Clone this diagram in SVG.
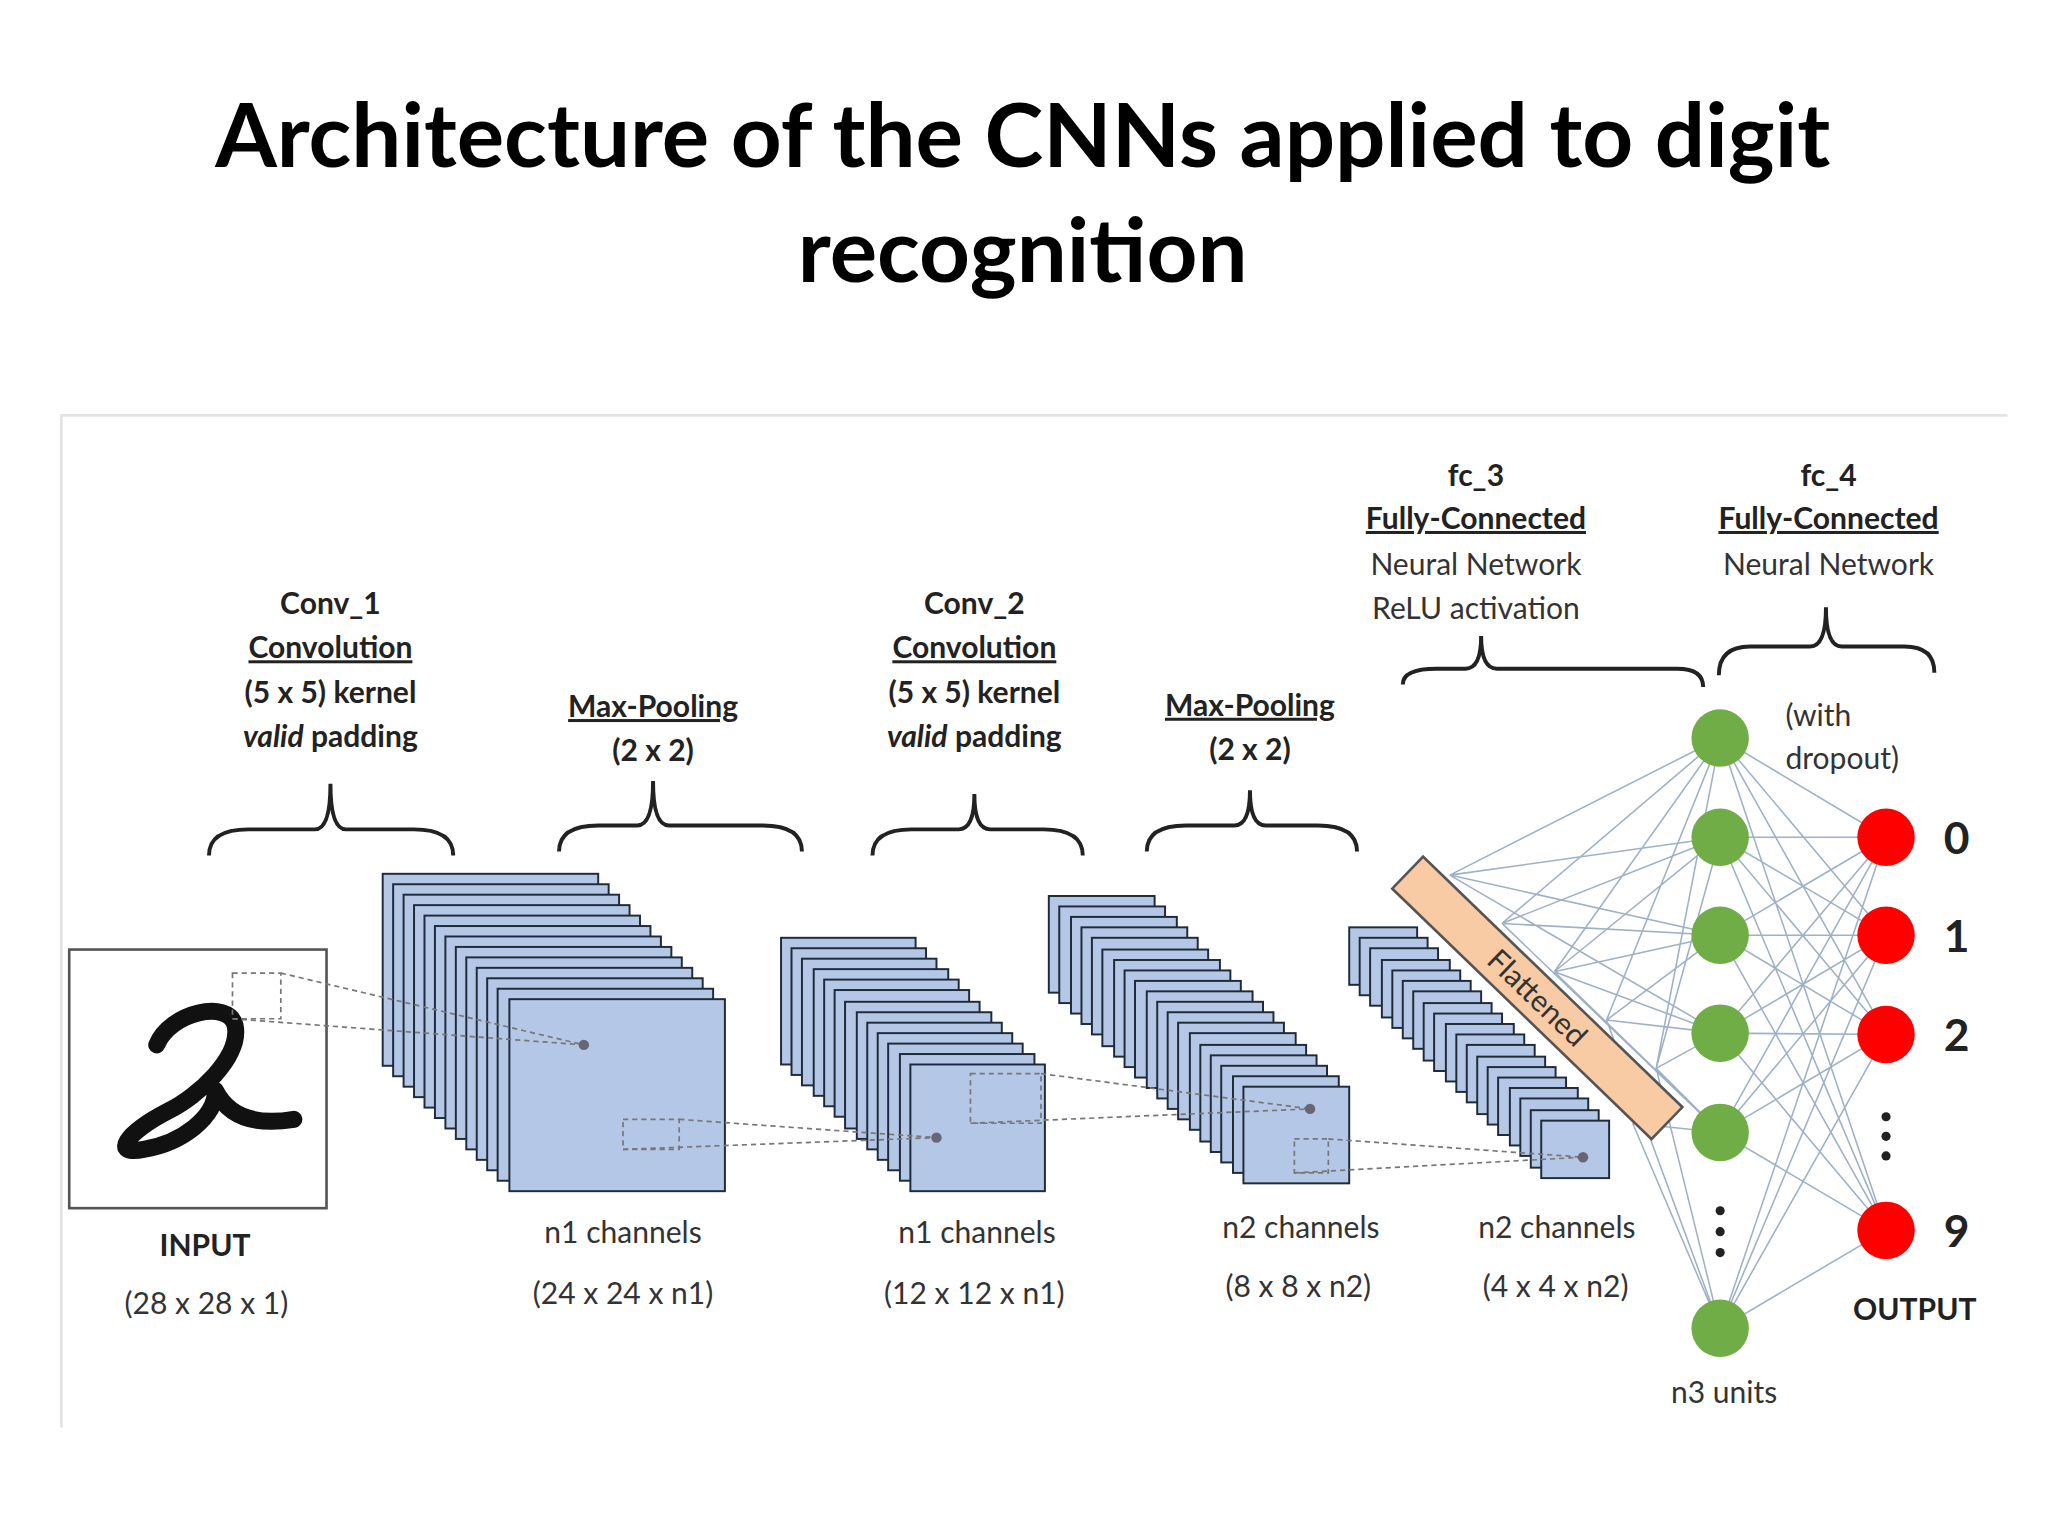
<svg xmlns="http://www.w3.org/2000/svg" width="2048" height="1536" viewBox="0 0 2048 1536">
<style>
.t{font-family:Lato,"Open Sans",sans-serif;font-size:23px;fill:#333;text-anchor:middle}
.b{font-weight:bold;fill:#222}
.u{text-decoration:underline}
.big{font-size:34px}
.s{text-anchor:start}
.title{font-family:Lato,"Open Sans",sans-serif;font-size:68px;font-weight:bold;fill:#000;text-anchor:middle}
.L{fill:#b4c7e7;stroke:#1e2a38;stroke-width:1.5}
.brace{fill:none;stroke:#222;stroke-width:3}
.d{stroke:#777;stroke-width:1.3;stroke-dasharray:4 3;fill:none}
.c{stroke:#9fb1c6;stroke-width:1.2}
.g{fill:#70ad47}
.r{fill:#ff0000}
.dot{fill:#222}
</style>
<rect width="2048" height="1536" fill="#fff"/>
<g transform="scale(1.30612)">
<g id="title">
<text class="title" x="783" y="128">Architecture of the CNNs applied to digit</text>
<text class="title" x="783" y="216">recognition</text>
</g>
<g id="frame" stroke="#e3e3e3" stroke-width="2" fill="none"><path d="M47 1093 V318 H1537"/></g>
<g id="input">
<rect x="53" y="727" width="197" height="198" fill="#fff" stroke="#555" stroke-width="2"/>
<path d="M120 800 C130 775 175 765 180 785 C185 810 150 840 130 850 C95 868 85 885 110 880 C140 875 165 855 165 835 C175 855 195 862 225 857" fill="none" stroke="#111" stroke-width="13" stroke-linecap="round" stroke-linejoin="round"/>
<text class="t b" x="157" y="962">INPUT</text>
<text class="t" x="158" y="1006">(28 x 28 x 1)</text>
</g>
<g id="conv1">
<rect class="L" x="293" y="669" width="165" height="147"/><rect class="L" x="301" y="677" width="165" height="147"/><rect class="L" x="309" y="685" width="165" height="147"/><rect class="L" x="317" y="693" width="165" height="147"/><rect class="L" x="325" y="701" width="165" height="147"/><rect class="L" x="333" y="709" width="165" height="147"/><rect class="L" x="341" y="717" width="165" height="147"/><rect class="L" x="349" y="725" width="165" height="147"/><rect class="L" x="357" y="733" width="165" height="147"/><rect class="L" x="365" y="741" width="165" height="147"/><rect class="L" x="373" y="749" width="165" height="147"/><rect class="L" x="381" y="757" width="165" height="147"/><rect class="L" x="390" y="765" width="165" height="147"/>
<text class="t" x="477" y="952">n1 channels</text>
<text class="t" x="477" y="998">(24 x 24 x n1)</text>
</g>
<g id="pool1">
<rect class="L" x="598" y="718" width="103" height="97"/><rect class="L" x="606" y="726" width="103" height="97"/><rect class="L" x="614" y="734" width="103" height="97"/><rect class="L" x="623" y="742" width="103" height="97"/><rect class="L" x="631" y="750" width="103" height="97"/><rect class="L" x="639" y="758" width="103" height="97"/><rect class="L" x="647" y="767" width="103" height="97"/><rect class="L" x="656" y="775" width="103" height="97"/><rect class="L" x="664" y="783" width="103" height="97"/><rect class="L" x="672" y="791" width="103" height="97"/><rect class="L" x="680" y="799" width="103" height="97"/><rect class="L" x="689" y="807" width="103" height="97"/><rect class="L" x="697" y="815" width="103" height="97"/>
<text class="t" x="748" y="952">n1 channels</text>
<text class="t" x="746" y="998">(12 x 12 x n1)</text>
</g>
<g id="conv2">
<rect class="L" x="803" y="686" width="81" height="74"/><rect class="L" x="811" y="694" width="81" height="74"/><rect class="L" x="820" y="702" width="81" height="74"/><rect class="L" x="828" y="710" width="81" height="74"/><rect class="L" x="836" y="718" width="81" height="74"/><rect class="L" x="844" y="727" width="81" height="74"/><rect class="L" x="853" y="735" width="81" height="74"/><rect class="L" x="861" y="743" width="81" height="74"/><rect class="L" x="869" y="751" width="81" height="74"/><rect class="L" x="878" y="759" width="81" height="74"/><rect class="L" x="886" y="767" width="81" height="74"/><rect class="L" x="894" y="775" width="81" height="74"/><rect class="L" x="902" y="783" width="81" height="74"/><rect class="L" x="911" y="791" width="81" height="74"/><rect class="L" x="919" y="800" width="81" height="74"/><rect class="L" x="927" y="808" width="81" height="74"/><rect class="L" x="935" y="816" width="81" height="74"/><rect class="L" x="944" y="824" width="81" height="74"/><rect class="L" x="952" y="832" width="81" height="74"/>
<text class="t" x="996" y="948">n2 channels</text>
<text class="t" x="994" y="993">(8 x 8 x n2)</text>
</g>
<g id="pool2">
<rect class="L" x="1033" y="710" width="52" height="44"/><rect class="L" x="1041" y="718" width="52" height="44"/><rect class="L" x="1049" y="726" width="52" height="44"/><rect class="L" x="1058" y="735" width="52" height="44"/><rect class="L" x="1066" y="743" width="52" height="44"/><rect class="L" x="1074" y="751" width="52" height="44"/><rect class="L" x="1082" y="759" width="52" height="44"/><rect class="L" x="1090" y="768" width="52" height="44"/><rect class="L" x="1098" y="776" width="52" height="44"/><rect class="L" x="1107" y="784" width="52" height="44"/><rect class="L" x="1115" y="792" width="52" height="44"/><rect class="L" x="1123" y="800" width="52" height="44"/><rect class="L" x="1131" y="809" width="52" height="44"/><rect class="L" x="1139" y="817" width="52" height="44"/><rect class="L" x="1147" y="825" width="52" height="44"/><rect class="L" x="1156" y="833" width="52" height="44"/><rect class="L" x="1164" y="841" width="52" height="44"/><rect class="L" x="1172" y="850" width="52" height="44"/><rect class="L" x="1180" y="858" width="52" height="44"/>
<text class="t" x="1192" y="948">n2 channels</text>
<text class="t" x="1191" y="993">(4 x 4 x n2)</text>
</g>
<g id="connectors">
<g id="kernels">
<rect class="d" x="178" y="745" width="37" height="35"/>
<path class="d" d="M215 745 L447 800 M178 780 L447 800"/>
<circle cx="447" cy="800" r="4" fill="#667"/>
<rect class="d" x="477" y="857" width="43" height="23"/>
<path class="d" d="M520 857 L717 871 M477 880 L717 871"/>
<circle cx="717" cy="871" r="4" fill="#667"/>
<rect class="d" x="743" y="822" width="54" height="38"/>
<path class="d" d="M797 822 L1003 849 M743 860 L1003 849"/>
<circle cx="1003" cy="849" r="4" fill="#667"/>
<rect class="d" x="991" y="872" width="26" height="26"/>
<path class="d" d="M1017 872 L1212 886 M991 898 L1212 886"/>
<circle cx="1212" cy="886" r="4" fill="#667"/>
</g>
<g id="fc3-lines">
<path class="c" d="M1110 670 L1317 565 M1110 670 L1317 641 M1110 670 L1317 716 M1110 670 L1317 791
M1150 707 L1317 565 M1150 707 L1317 641 M1150 707 L1317 716 M1150 707 L1317 867
M1190 744 L1317 565 M1190 744 L1317 641 M1190 744 L1317 791 M1190 744 L1317 867 M1190 744 L1317 716
M1230 781 L1317 565 M1230 781 L1317 716 M1230 781 L1317 791 M1230 781 L1317 1017
M1268 818 L1317 565 M1268 818 L1317 641 M1268 818 L1317 867 M1268 818 L1317 1017 M1268 818 L1317 791
M1250 860 L1317 1017 M1250 860 L1317 867"/>
</g>
<g id="fc4-lines">
<path class="c" d="M1317 565 L1444 641 M1317 565 L1444 716 M1317 565 L1444 792 M1317 565 L1444 942
M1317 641 L1444 641 M1317 641 L1444 716 M1317 641 L1444 792 M1317 641 L1444 942
M1317 716 L1444 641 M1317 716 L1444 716 M1317 716 L1444 792 M1317 716 L1444 942
M1317 791 L1444 641 M1317 791 L1444 716 M1317 791 L1444 792 M1317 791 L1444 942
M1317 867 L1444 641 M1317 867 L1444 716 M1317 867 L1444 792 M1317 867 L1444 942
M1317 1017 L1444 641 M1317 1017 L1444 716 M1317 1017 L1444 792 M1317 1017 L1444 942"/>
</g>
</g>
<g id="flattened">
<g transform="translate(1177 764) rotate(44)">
<rect x="-138" y="-17" width="276" height="34" fill="#f8cba5" stroke="#555" stroke-width="2"/>
<text class="t" x="0" y="8">Flattened</text>
</g>
</g>
<g id="hidden">
<circle class="g" cx="1317" cy="565" r="22"/><circle class="g" cx="1317" cy="641" r="22"/><circle class="g" cx="1317" cy="716" r="22"/><circle class="g" cx="1317" cy="791" r="22"/><circle class="g" cx="1317" cy="867" r="22"/><circle class="g" cx="1317" cy="1017" r="22"/>
<circle class="dot" cx="1317" cy="927" r="3.5"/><circle class="dot" cx="1317" cy="943" r="3.5"/><circle class="dot" cx="1317" cy="959" r="3.5"/>
<text class="t" x="1320" y="1074">n3 units</text>
</g>
<g id="output">
<circle class="r" cx="1444" cy="641" r="22"/><circle class="r" cx="1444" cy="716" r="22"/><circle class="r" cx="1444" cy="792" r="22"/><circle class="r" cx="1444" cy="942" r="22"/>
<circle class="dot" cx="1444" cy="855" r="3.5"/><circle class="dot" cx="1444" cy="870" r="3.5"/><circle class="dot" cx="1444" cy="885" r="3.5"/>
<text class="t b big" x="1498" y="654">0</text>
<text class="t b big" x="1498" y="729">1</text>
<text class="t b big" x="1498" y="805">2</text>
<text class="t b big" x="1498" y="955">9</text>
<text class="t b" x="1466" y="1011">OUTPUT</text>
<text class="t s" x="1367" y="556">(with</text>
<text class="t s" x="1367" y="589">dropout)</text>
</g>
<g id="labels">
<text class="t b" x="253" y="470">Conv_1</text>
<text class="t b u" x="253" y="504">Convolution</text>
<text class="t b" x="253" y="538">(5 x 5) kernel</text>
<text class="t b" x="253" y="572"><tspan font-style="italic">valid</tspan> padding</text>
<path class="brace" d="M160 655 Q160 635 190 635 L241 635 Q253 635 253 600 Q253 635 265 635 L317 635 Q347 635 347 655"/>
<text class="t b u" x="500" y="549">Max-Pooling</text>
<text class="t b" x="500" y="583">(2 x 2)</text>
<path class="brace" d="M428 652 Q428 632 458 632 L488 632 Q500 632 500 598 Q500 632 512 632 L584 632 Q614 632 614 652"/>
<text class="t b" x="746" y="470">Conv_2</text>
<text class="t b u" x="746" y="504">Convolution</text>
<text class="t b" x="746" y="538">(5 x 5) kernel</text>
<text class="t b" x="746" y="572"><tspan font-style="italic">valid</tspan> padding</text>
<path class="brace" d="M668 655 Q668 635 698 635 L734 635 Q746 635 746 608 Q746 635 758 635 L799 635 Q829 635 829 655"/>
<text class="t b u" x="957" y="548">Max-Pooling</text>
<text class="t b" x="957" y="582">(2 x 2)</text>
<path class="brace" d="M878 652 Q878 632 908 632 L945 632 Q957 632 957 605 Q957 632 969 632 L1009 632 Q1039 632 1039 652"/>
<text class="t b" x="1130" y="372">fc_3</text>
<text class="t b u" x="1130" y="405">Fully-Connected</text>
<text class="t" x="1130" y="440">Neural Network</text>
<text class="t" x="1130" y="474">ReLU activation</text>
<path class="brace" d="M1074 524 Q1074 512 1100 512 L1122 512 Q1134 512 1134 487 Q1134 512 1146 512 L1284 512 Q1304 512 1304 526"/>
<text class="t b" x="1400" y="372">fc_4</text>
<text class="t b u" x="1400" y="405">Fully-Connected</text>
<text class="t" x="1400" y="440">Neural Network</text>
<path class="brace" d="M1316 517 Q1316 495 1340 495 L1386 495 Q1398 495 1398 465 Q1398 495 1410 495 L1458 495 Q1481 495 1481 515"/>
</g>
</g>
</svg>
